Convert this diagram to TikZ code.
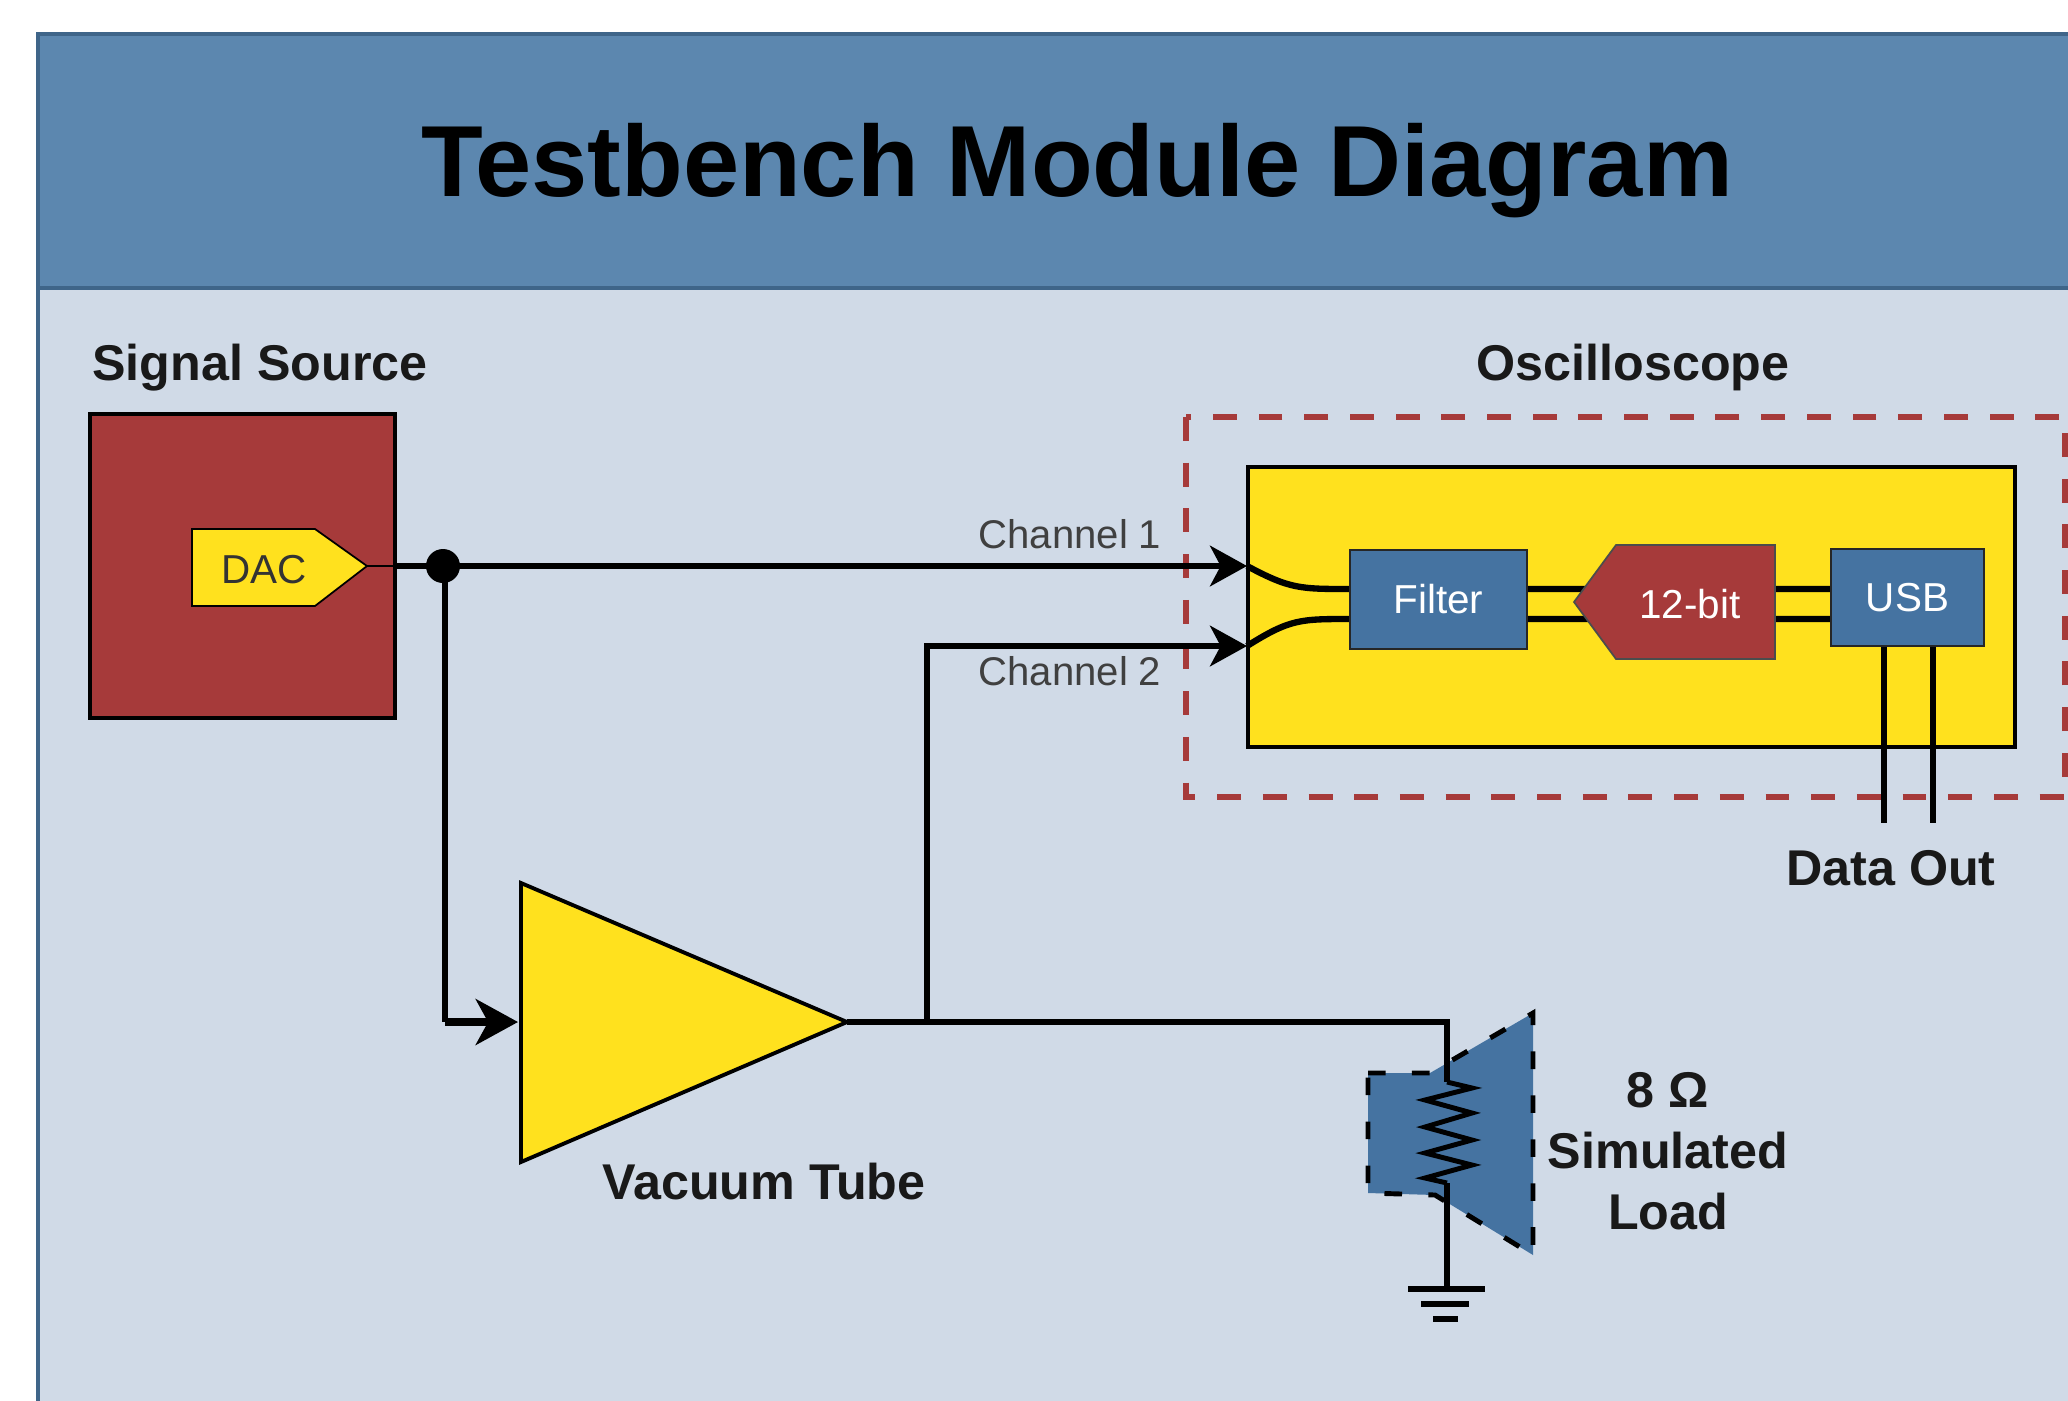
\documentclass[tikz,border=0pt]{standalone}
\usepackage{fontspec}
\setmainfont{Liberation Sans}
\usetikzlibrary{arrows.meta}
\definecolor{hdrblue}{HTML}{5C87AF}
\definecolor{bodyblue}{HTML}{D0DAE7}
\definecolor{edgeblue}{HTML}{3F6589}
\definecolor{partblue}{HTML}{4573A1}
\definecolor{partred}{HTML}{A63A3A}
\definecolor{partyellow}{HTML}{FFE11E}
\tikzset{
  wire/.style={line width=1.8pt},
  sigarrow/.style={wire, -{Stealth[length=10.5pt, width=11.5pt, inset=3pt]}},
  partbox/.style={draw=black!85, line width=.5pt, fill=partblue, text=white,
    font=\fontsize{11.5}{13}\selectfont, inner sep=0pt},
  boldlabel/.style={font=\bfseries\fontsize{14.3}{17.3}\selectfont, align=center, text=black!90},
  chlabel/.style={font=\fontsize{11.4}{13}\selectfont, text=black!75}
}
\begin{document}
\begin{tikzpicture}
  \useasboundingbox (0,0) rectangle (20.68,-14);
  \clip (0,0) rectangle (20.68,-14);
  %frame and title bar
  \fill [white] (0,0) rectangle (20.68,-14);
  \draw [line width=1.1pt, draw=edgeblue, fill=bodyblue] (0.38,-0.34) rectangle (21.5,-15);
  \draw [line width=1.1pt, draw=edgeblue, fill=hdrblue] (0.38,-0.34) rectangle (21.5,-2.88);
  \node (title) at (10.77,-1.71) {\bfseries\fontsize{28.75}{34}\selectfont Testbench Module Diagram};
  %signal source
  \node (srclabel) [boldlabel, anchor=west] at (0.80,-3.68) {Signal Source};
  \node (srcbox) [draw=black, line width=1.1pt, fill=partred, minimum width=3.05cm,
    minimum height=3.04cm, inner sep=0pt] at (2.425,-5.66) {};
  \draw [line width=.5pt, fill=partyellow] (1.92,-5.29) -- (3.15,-5.29) -- (3.67,-5.66)
        -- (3.15,-6.06) -- (1.92,-6.06) -- cycle;
  \coordinate (dactip) at (3.67,-5.66);
  \node (dac) [font=\fontsize{11.5}{13}\selectfont, text=black!80] at (2.64,-5.70) {DAC};
  %oscilloscope
  \node (scopelabel) [boldlabel] at (16.33,-3.67) {Oscilloscope};
  \draw [line width=1.6pt, draw=partred, dash pattern=on 6.8pt off 6.2pt]
        (11.86,-4.17) rectangle (20.65,-7.97);
  \node (scope) [draw=black, line width=1.1pt, fill=partyellow, minimum width=7.67cm,
    minimum height=2.80cm, inner sep=0pt] at (16.315,-6.07) {};
  \coordinate (ch1in) at (12.47,-5.66);
  \coordinate (ch2in) at (12.47,-6.46);
  \coordinate (chup) at (13.50,-5.89);
  \coordinate (chlow) at (13.50,-6.19);
  \coordinate (usbup) at (18.31,-5.89);
  \coordinate (usblow) at (18.31,-6.19);
  \coordinate (out1) at (18.84,-8.23);
  \coordinate (out2) at (19.33,-8.23);
  %lines inside the scope
  \draw [wire] (ch1in) .. controls (12.90,-5.89) and (13.00,-5.89) .. (chup) -- (usbup);
  \draw [wire] (ch2in) .. controls (12.90,-6.19) and (13.00,-6.19) .. (chlow) -- (usblow);
  \node (filter) [partbox, minimum width=1.77cm, minimum height=.99cm] at (14.385,-5.995) {Filter};
  \draw [line width=.5pt, draw=black!70, fill=partred] (15.74,-6.02) -- (16.16,-5.45) -- (17.75,-5.45)
        -- (17.75,-6.59) -- (16.16,-6.59) -- cycle;
  \node (adc) [font=\fontsize{11.5}{13}\selectfont, text=white] at (16.90,-6.04) {12-bit};
  \node (usb) [partbox, minimum width=1.53cm, minimum height=.97cm] at (19.075,-5.975) {USB};
  \draw [wire] (usb.south -| out1) -- (out1);
  \draw [wire] (usb.south -| out2) -- (out2);
  \node (dataout) [boldlabel] at (18.91,-8.68) {Data Out};
  %vacuum tube
  \draw [line width=1.1pt, fill=partyellow] (5.21,-8.83) -- (8.47,-10.22) -- (5.21,-11.62) -- cycle;
  \coordinate (tubein) at (5.18,-10.22);
  \coordinate (tubeout) at (8.47,-10.22);
  \coordinate (tubecorner) at (4.45,-10.22);
  \coordinate (tee) at (9.27,-10.22);
  \node (tubelabel) [boldlabel] at (7.64,-11.82) {Vacuum Tube};
  %signal wires
  \node (dot) [circle, fill=black, minimum size=.34cm, inner sep=0pt] at (4.43,-5.66) {};
  \draw [line width=.5pt] (dactip) -- (srcbox.east |- dactip);
  \draw [sigarrow] (srcbox.east |- dactip) -- (ch1in);
  \draw [wire] (dot.center) ++(0.02,0) -- (tubecorner);
  \draw [wire, line width=2.4pt, -{Stealth[length=12pt, width=13pt, inset=3.5pt]}] (tubecorner) -- (tubein);
  \draw [wire] (tubeout) -- (tee);
  \draw [sigarrow] (tee) -- (9.27,-6.46) -- (ch2in);
  \node (ch1label) [chlabel] at (10.70,-5.34) {Channel 1};
  \node (ch2label) [chlabel] at (10.70,-6.71) {Channel 2};
  %load
  \draw [line width=1.4pt, dash pattern=on 5pt off 7.5pt, fill=partblue]
        (13.68,-10.73) -- (14.30,-10.73) -- (15.33,-10.13) -- (15.33,-12.55)
        -- (14.35,-11.95) -- (13.68,-11.93) -- cycle;
  \coordinate (rtop) at (14.47,-10.82);
  \coordinate (rbot) at (14.47,-11.83);
  \coordinate (gnd) at (14.47,-12.89);
  \draw [wire] (tee) -- (14.47,-10.22) -- (rtop);
  \draw [wire, line width=1.4pt] (rtop)
        -- (14.72,-10.88) -- (14.25,-11.00) -- (14.72,-11.13) -- (14.25,-11.27)
        -- (14.72,-11.40) -- (14.25,-11.53) -- (14.72,-11.65) -- (14.25,-11.78)
        -- (rbot);
  \draw [wire] (rbot) -- (gnd);
  \draw [wire] (14.08,-12.89) -- (14.85,-12.89);
  \draw [wire] (14.21,-13.04) -- (14.69,-13.04);
  \draw [wire] (14.33,-13.19) -- (14.58,-13.19);
  \node (loadlabel) [boldlabel] at (16.68,-11.51) {8 Ω\\Simulated\\Load};
\end{tikzpicture}
\end{document}
